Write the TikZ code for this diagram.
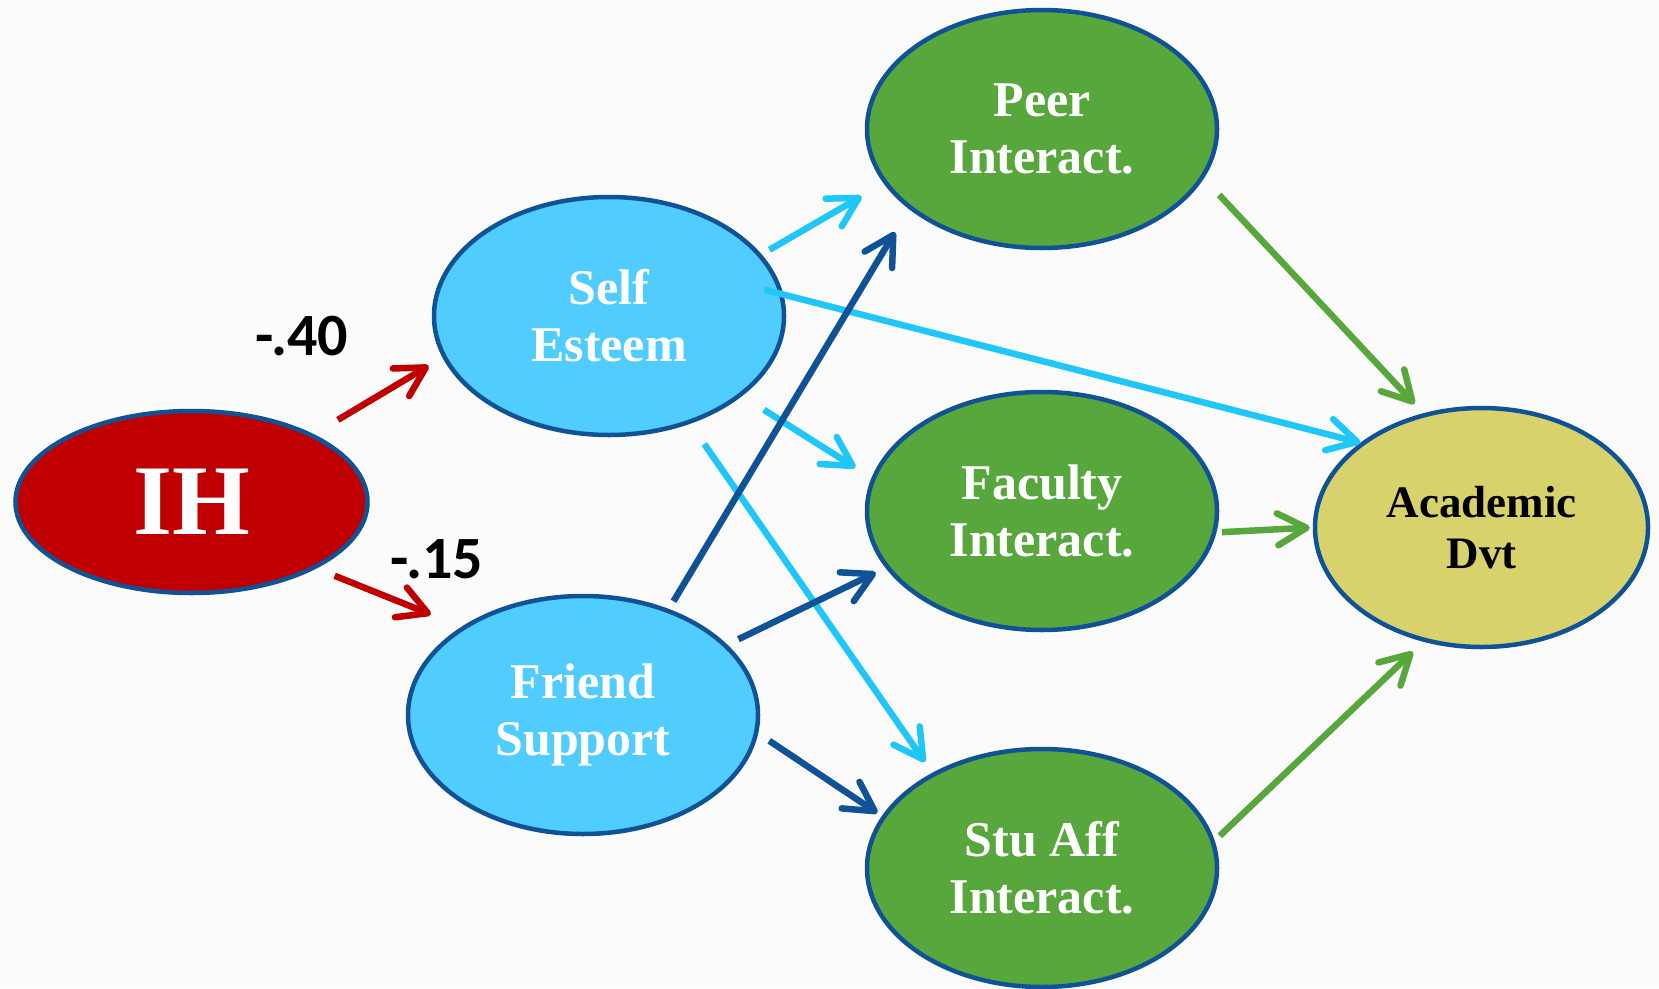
\documentclass[tikz,border=0pt]{standalone}
\usepackage{fontspec}
\setmainfont{Liberation Serif}
\newfontfamily\numfont{Carlito}
\usetikzlibrary{shapes.geometric,arrows.meta}

\definecolor{bgcol}{HTML}{FBFBFB}
\definecolor{edgeblue}{HTML}{0F5296}
\definecolor{ihred}{HTML}{C00000}
\definecolor{skyfill}{HTML}{50CCFF}
\definecolor{greenfill}{HTML}{58A73D}
\definecolor{olivefill}{HTML}{D8D26C}
\definecolor{skyline}{HTML}{1FC6F8}

\tikzset{
  oval/.style={ellipse, draw=edgeblue, line width=4.5pt, inner sep=0pt,
    align=center, text=white,
    font=\bfseries\fontsize{50}{57}\selectfont,
    minimum width=350pt, minimum height=238pt},
  ihnode/.style={oval, fill=ihred, minimum width=352pt, minimum height=182pt,
    font=\bfseries\fontsize{100}{110}\selectfont},
  bluenode/.style={oval, fill=skyfill},
  greennode/.style={oval, fill=greenfill},
  outnode/.style={oval, fill=olivefill, text=black,
    minimum width=333pt, minimum height=239pt,
    font=\bfseries\fontsize{45}{51}\selectfont},
  coef/.style={font=\numfont\bfseries\fontsize{60}{62}\selectfont, anchor=base, inner sep=0pt},
  link/.style={line width=6.5pt, -{Straight Barb[length=29pt,width=32pt,round]}},
  redlink/.style={link, draw=ihred},
  skylink/.style={link, draw=skyline},
  navylink/.style={link, draw=edgeblue},
  greenlink/.style={link, draw=greenfill}
}

\begin{document}
\begin{tikzpicture}[x=1pt,y=-1pt]
  % canvas
  \fill[bgcol] (0,0) rectangle (1659,988);
  \useasboundingbox (0,0) rectangle (1659,988);

  % constructs
  \node[ihnode]    (ih)     at (191.5,502)  {IH};
  \node[bluenode]  (self)   at (609,316)    {Self\\Esteem};
  \node[bluenode]  (friend) at (583,715)    {Friend\\Support};
  \node[greennode] (peer)   at (1042,129)   {Peer\\Interact.};
  \node[greennode] (fac)    at (1042,511)   {Faculty\\Interact.};
  \node[greennode] (stu)    at (1042,868)   {Stu Aff\\Interact.};
  \node[outnode]   (acad)   at (1481.5,527.5) {Academic\\Dvt};

  % path coefficients
  \node[coef] (c40) at (302,355) {-.40};
  \node[coef] (c15) at (437,578) {-.15};

  % paths from IH
  \draw[redlink, shorten <=28pt, shorten >=16pt]   (ih.29.8)  -- (self.194.9);
  \draw[redlink, shorten <=19.5pt, shorten >=33pt] (ih.332.7) -- (friend.144.5);

  % paths from self esteem
  \draw[skylink, shorten <=9pt, shorten >=25.5pt]   (self.22)    -- (peer.199.8);
  \draw[skylink, shorten <=-19.5pt, shorten >=0pt]  (self.7.3)   -- (acad.145.1);
  \draw[skylink, shorten <=25.7pt, shorten >=19pt]  (self.329.4) -- (fac.169.7);
  \draw[skylink, shorten <=24.7pt, shorten >=13pt]  (self.307.8) -- (stu.139.3);

  % paths from friend support
  \draw[navylink, shorten <=9pt, shorten >=27pt]     (friend.51.05) -- (peer.211.1);
  \draw[navylink, shorten <=12.3pt, shorten >=10.8pt] (friend.26.7)  -- (fac.200.1);
  \draw[navylink, shorten <=13.3pt, shorten >=5.4pt]  (friend.354.2) -- (stu.162.9);

  % paths into academic development
  \draw[greenlink, shorten <=22.5pt, shorten >=12.8pt] (peer.343.1) -- (acad.117.2);
  \draw[greenlink, shorten <=5.5pt, shorten >=3pt]     (fac.353.3)  -- (acad.180.1);
  \draw[greenlink, shorten <=7pt, shorten >=14.5pt]    (stu.9.4)    -- (acad.243.6);
\end{tikzpicture}
\end{document}
